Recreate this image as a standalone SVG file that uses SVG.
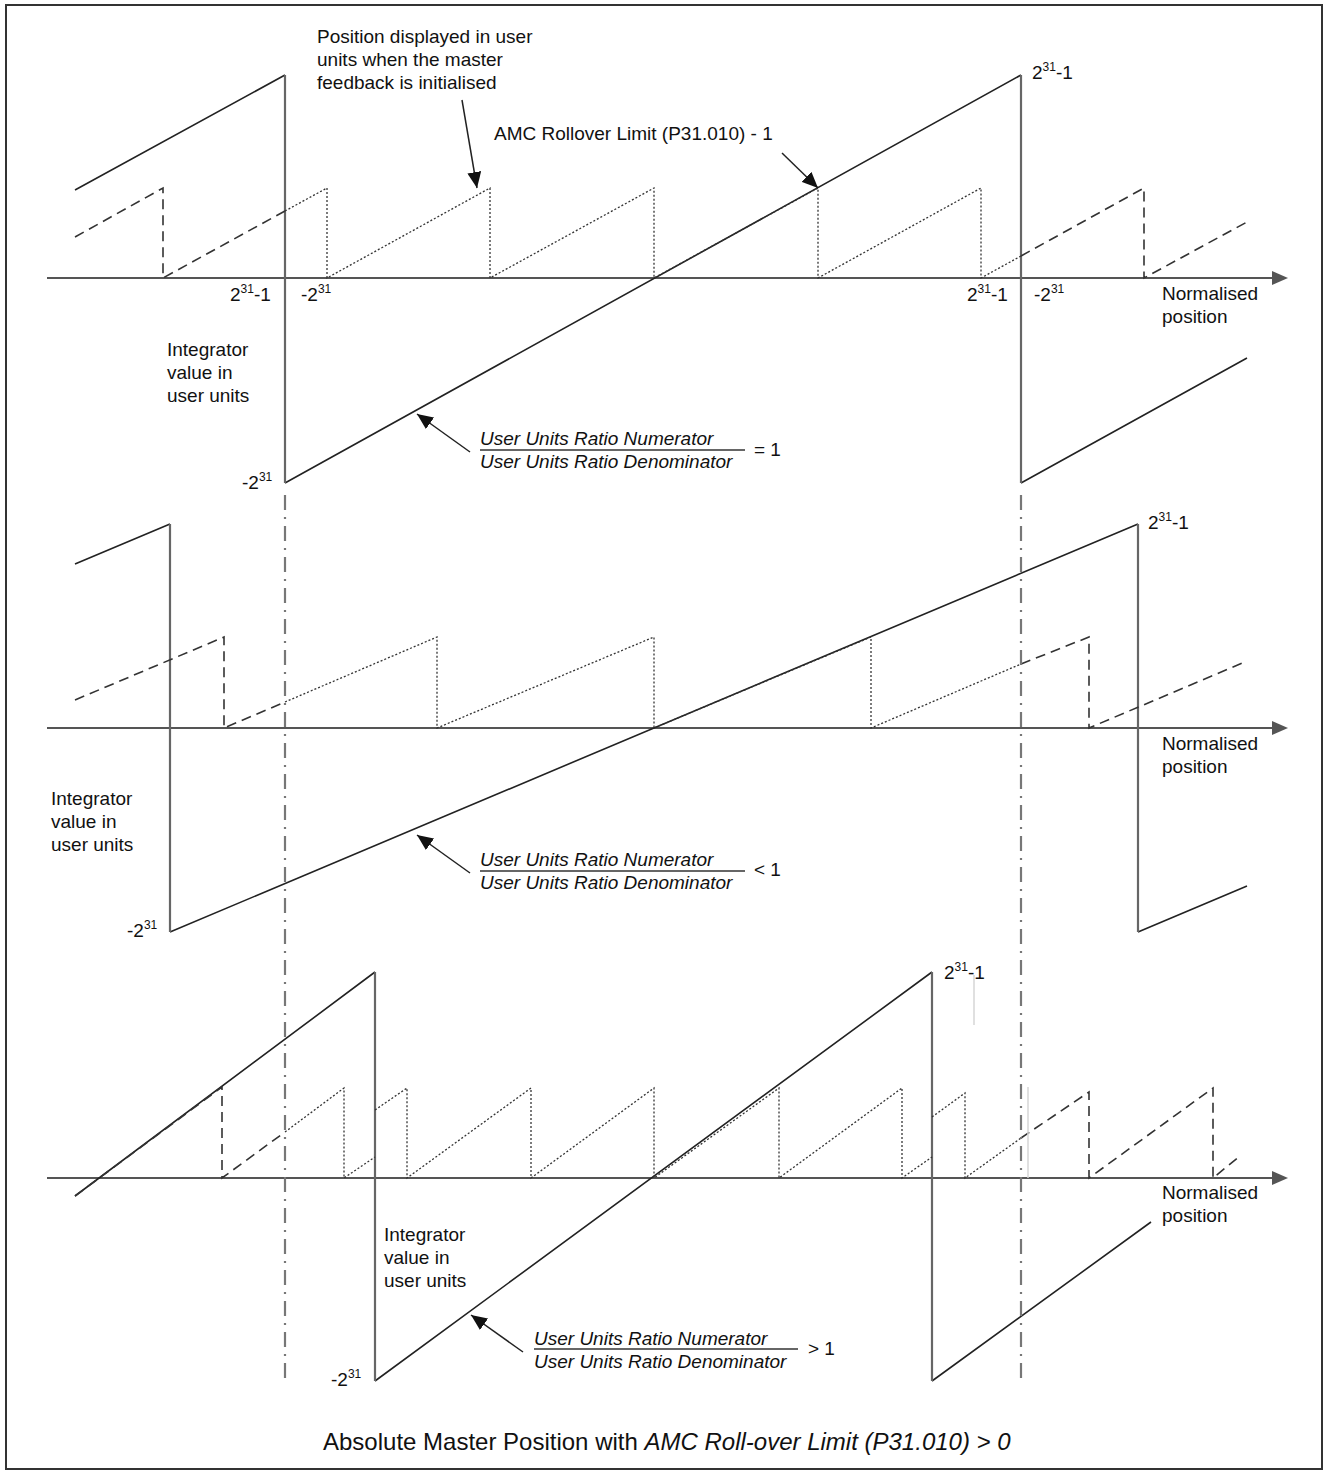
<svg xmlns="http://www.w3.org/2000/svg" width="1324" height="1474" viewBox="0 0 1324 1474">
<style>
text{font-family:"Liberation Sans",Arial,sans-serif;font-size:19px;fill:#111}
.it{font-style:italic}
.title{font-size:24px}
.sup{font-size:12px}
.axis{stroke:#555;stroke-width:2;fill:none}
.slope{stroke:#222;stroke-width:1.6;fill:none}
.vert{stroke:#666;stroke-width:2.2;fill:none}
.dash{stroke:#333;stroke-width:1.6;fill:none;stroke-dasharray:10 6}
.dot{stroke:#333;stroke-width:1.3;fill:none;stroke-dasharray:2 2}
.dd{stroke:#777;stroke-width:2.2;fill:none;stroke-dasharray:15 7 2 7}
.faint{stroke:#d6d6d6;stroke-width:1.5;fill:none}
.bar{stroke:#333;stroke-width:1.5}
.ann{stroke:#222;stroke-width:1.5;fill:none;marker-end:url(#ah)}
.head{fill:#555}
</style>
<defs>
<marker id="ah" markerUnits="userSpaceOnUse" markerWidth="17" markerHeight="14" refX="16" refY="7" orient="auto">
<path d="M0,0 L16,7 L0,14 z" fill="#111"/>
</marker>
</defs>
<rect x="6" y="5" width="1316" height="1464" fill="#fff" stroke="#333" stroke-width="2"/>

<g id="panel-equal">
<path class="axis" d="M47,278 H1274"/>
<polygon class="head" points="1272,271 1288,278 1272,285"/>
<path class="slope" d="M75,190 L285,75 M285,483 L1021,75 M1021,483 L1247,358"/>
<path class="vert" d="M285,75 V483 M1021,75 V483"/>
<path class="dash" d="M75,237 L163,188 V278 L285,211 M1021,256 L1144,188 V278 L1247,222"/>
<path class="dot" d="M285,211 L327,188 V278 L490,188 V278 L654,188 V278 L818,188 V278 L981,188 V278 L1021,256"/>
<text x="317" y="43">Position displayed in user</text>
<text x="317" y="66">units when the master</text>
<text x="317" y="89">feedback is initialised</text>
<text x="494" y="140">AMC Rollover Limit (P31.010) - 1</text>
<text x="230" y="301">2<tspan class="sup" dy="-8">31</tspan><tspan dy="8">-1</tspan></text>
<text x="301" y="301">-2<tspan class="sup" dy="-8">31</tspan></text>
<text x="967" y="301">2<tspan class="sup" dy="-8">31</tspan><tspan dy="8">-1</tspan></text>
<text x="1034" y="301">-2<tspan class="sup" dy="-8">31</tspan></text>
<text x="1032" y="79">2<tspan class="sup" dy="-8">31</tspan><tspan dy="8">-1</tspan></text>
<text x="1162" y="300">Normalised</text>
<text x="1162" y="323">position</text>
<text x="167" y="356">Integrator</text>
<text x="167" y="379">value in</text>
<text x="167" y="402">user units</text>
<text x="242" y="489">-2<tspan class="sup" dy="-8">31</tspan></text>
<text class="it" x="480" y="445">User Units Ratio Numerator</text>
<line class="bar" x1="480" y1="450" x2="745" y2="450"/>
<text class="it" x="480" y="468">User Units Ratio Denominator</text>
<text x="754" y="456">= 1</text>
</g>

<g id="panel-less">
<path class="axis" d="M47,728 H1274"/>
<polygon class="head" points="1272,721 1288,728 1272,735"/>
<path class="slope" d="M75,564 L170,524 M170,932 L1138,524 M1138,932 L1247,886"/>
<path class="vert" d="M170,524 V932 M1138,524 V932"/>
<path class="dash" d="M75,700 L224,637 V728 L285,702 M1021,664 L1089,637 V728 L1247,661"/>
<path class="dot" d="M285,702 L437,637 V728 L654,637 V728 L871,637 V728 L1021,664"/>
<text x="1148" y="529">2<tspan class="sup" dy="-8">31</tspan><tspan dy="8">-1</tspan></text>
<text x="1162" y="750">Normalised</text>
<text x="1162" y="773">position</text>
<text x="51" y="805">Integrator</text>
<text x="51" y="828">value in</text>
<text x="51" y="851">user units</text>
<text x="127" y="937">-2<tspan class="sup" dy="-8">31</tspan></text>
<text class="it" x="480" y="866">User Units Ratio Numerator</text>
<line class="bar" x1="480" y1="871" x2="745" y2="871"/>
<text class="it" x="480" y="889">User Units Ratio Denominator</text>
<text x="754" y="876">&lt; 1</text>
</g>

<g id="panel-greater">
<path class="axis" d="M47,1178 H1274"/>
<polygon class="head" points="1272,1171 1288,1178 1272,1185"/>
<path class="slope" d="M75,1196 L375,972 M375,1381 L932,972 M932,1381 L1151,1222"/>
<path class="vert" d="M375,972 V1381 M932,972 V1381"/>
<path class="dash" d="M75,1196 L222,1087 V1178 L285,1132 M1021,1138 L1089,1092 V1178 L1213,1088 V1178 L1240,1156"/>
<path class="dot" d="M285,1132 L344,1088 V1178 L375,1157 M375,1110 L407,1088 V1178 L531,1088 V1178 L654,1088 V1178 L779,1088 V1178 L902,1088 V1178 L932,1157 M932,1117 L965,1093 V1178 L1021,1138"/>
<path class="faint" d="M974,975 V1025 M1028,1087 V1178"/>
<text x="944" y="979">2<tspan class="sup" dy="-8">31</tspan><tspan dy="8">-1</tspan></text>
<text x="1162" y="1199">Normalised</text>
<text x="1162" y="1222">position</text>
<text x="384" y="1241">Integrator</text>
<text x="384" y="1264">value in</text>
<text x="384" y="1287">user units</text>
<text x="331" y="1386">-2<tspan class="sup" dy="-8">31</tspan></text>
<text class="it" x="534" y="1345">User Units Ratio Numerator</text>
<line class="bar" x1="534" y1="1349" x2="798" y2="1349"/>
<text class="it" x="534" y="1368">User Units Ratio Denominator</text>
<text x="808" y="1355">&gt; 1</text>
</g>

<g id="reference-lines">
<path class="dd" d="M285,495 V1383 M1021,495 V1383"/>
</g>

<g id="connectors">
<path class="ann" d="M462,100 L477,188"/>
<path class="ann" d="M782,153 L818,188"/>
<path class="ann" d="M470,452 L417,414"/>
<path class="ann" d="M470,873 L417,835"/>
<path class="ann" d="M523,1352 L471,1315"/>
</g>

<text class="title" x="323" y="1450">Absolute Master Position with <tspan class="it">AMC Roll-over Limit (P31.010) &gt; 0</tspan></text>
</svg>
